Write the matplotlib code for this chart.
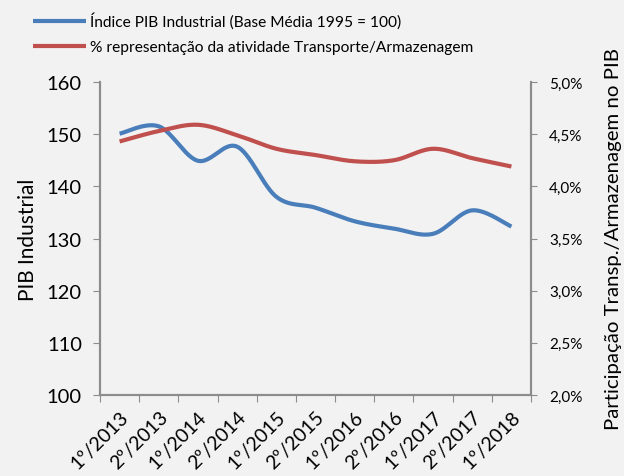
import numpy as np
import matplotlib.pyplot as plt
from matplotlib.ticker import FuncFormatter

periodos = ["1º/2013", "2º/2013", "1º/2014", "2º/2014", "1º/2015", "2º/2015",
            "1º/2016", "2º/2016", "1º/2017", "2º/2017", "1º/2018"]
pib_industrial = [150.1, 151.5, 144.9, 147.6, 138.0, 135.9, 133.3, 131.9, 130.9, 135.4, 132.3]
participacao = [4.43, 4.53, 4.59, 4.49, 4.36, 4.30, 4.24, 4.25, 4.36, 4.27, 4.19]

bg = "#F2F2F2"
azul = "#4A7EBB"
vermelho = "#C0504D"
cinza = "#8C8C8C"


def suaviza(x, y, n=30):
    # curva suavizada tipo Excel (Bezier pelos pontos)
    x = np.asarray(x, float)
    y = np.asarray(y, float)
    px = np.concatenate([[x[0]], x, [x[-1]]])
    py = np.concatenate([[y[0]], y, [y[-1]]])
    xs, ys = [], []
    t = np.linspace(0, 1, n)
    for i in range(1, len(px) - 2):
        p0 = np.array([px[i], py[i]])
        p3 = np.array([px[i + 1], py[i + 1]])
        p1 = p0 + (np.array([px[i + 1], py[i + 1]]) - np.array([px[i - 1], py[i - 1]])) / 6
        p2 = p3 - (np.array([px[i + 2], py[i + 2]]) - np.array([px[i], py[i]])) / 6
        b = ((1 - t) ** 3)[:, None] * p0 + (3 * (1 - t) ** 2 * t)[:, None] * p1 \
            + (3 * (1 - t) * t ** 2)[:, None] * p2 + (t ** 3)[:, None] * p3
        xs.extend(b[:, 0])
        ys.extend(b[:, 1])
    return np.array(xs), np.array(ys)


plt.rcParams['font.family'] = ['Lato', 'DejaVu Sans']

fig = plt.figure(figsize=(6.24, 4.77), dpi=100, facecolor=bg)
ax = fig.add_axes([100 / 624, 1 - 396 / 477, 431 / 624, 313 / 477])
ax.set_facecolor(bg)
ax2 = ax.twinx()

x = np.arange(len(periodos))
bx, by = suaviza(x, pib_industrial)
rx, ry = suaviza(x, participacao)
l1, = ax.plot(bx, by, color=azul, lw=3, solid_capstyle='butt')
l2, = ax2.plot(rx, ry, color=vermelho, lw=3, solid_capstyle='butt')

ax.set_xlim(-0.5, len(periodos) - 0.5)
ax.set_ylim(100, 160)
ax.set_yticks(range(100, 161, 10))
ax2.set_ylim(2.0, 5.0)
ax2.set_yticks(np.arange(2.0, 5.01, 0.5))
ax2.yaxis.set_major_formatter(FuncFormatter(lambda v, p: f"{v:.1f}%".replace(".", ",")))

ax.set_xticks(np.arange(-0.5, len(periodos), 1), minor=False)
ax.set_xticklabels([])
ax.set_xticks(x, minor=True)
ax.set_xticklabels(periodos, minor=True, rotation=45, ha='right', rotation_mode='anchor', fontsize=14)
ax.tick_params(axis='x', which='minor', length=0, pad=9)
ax.tick_params(axis='x', which='major', length=5, color=cinza, direction='out')
ax.tick_params(axis='y', labelsize=14.5, color=cinza, length=5, pad=8)
ax2.tick_params(axis='y', labelsize=11, color=cinza, length=4, pad=9)

for a in (ax, ax2):
    a.spines['top'].set_visible(False)
    for s in ('left', 'right', 'bottom'):
        a.spines[s].set_color(cinza)
        a.spines[s].set_linewidth(1.5)

ax.set_ylabel("PIB Industrial", fontsize=15, labelpad=6)
ax2.set_ylabel("Participação Transp./Armazenagem no PIB", fontsize=14.7, labelpad=16)

fig.legend([l1, l2], ["Índice PIB Industrial (Base Média 1995 = 100)",
                      "% representação da atividade Transporte/Armazenagem"],
           loc='upper left', bbox_to_anchor=(27 / 624, 1 - 7 / 477), frameon=False,
           fontsize=11.2, handlelength=3.4, handletextpad=0.25, labelspacing=0.73,
           borderaxespad=0)

fig.savefig("out.png", dpi=100, facecolor=bg)
